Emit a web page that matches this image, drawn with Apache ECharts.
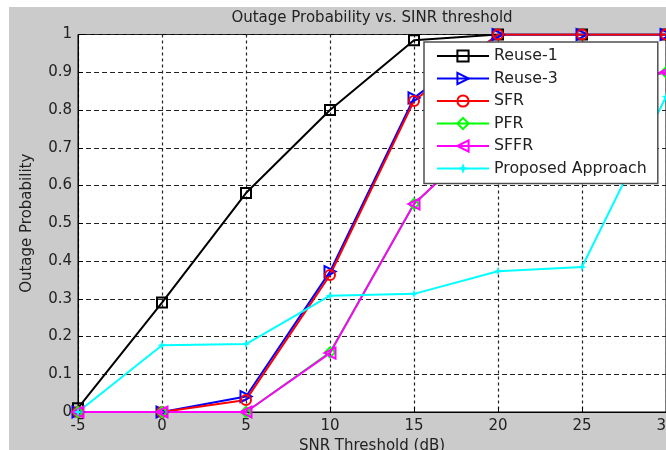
<!DOCTYPE html>
<html><head><meta charset="utf-8">
<script src="https://cdn.jsdelivr.net/npm/echarts@6/dist/echarts.min.js"></script>
<style>html,body{margin:0;padding:0;background:#fff;}#c{width:666px;height:450px;}</style>
</head><body><div id="c"></div>
<script>
var snr = [-5, 0, 5, 10, 15, 20, 25, 30];
var reuse1 = [0.01, 0.29, 0.58, 0.80, 0.985, 1, 1, 1];
var reuse3 = [0, 0, 0.041, 0.372, 0.832, 1, 1, 1];
var sfr = [0, 0, 0.032, 0.363, 0.824, 1, 1, 1];
var pfr = [0, 0, 0, 0.158, 0.551, 0.76, 0.85, 0.9];
var sffr = [0, 0, 0, 0.156, 0.551, 0.76, 0.85, 0.9];
var proposed = [0, 0.177, 0.18, 0.308, 0.313, 0.373, 0.384, 0.835];
var names = ['Reuse-1', 'Reuse-3', 'SFR', 'PFR', 'SFFR', 'Proposed Approach'];

function pairs(v){ return snr.map(function(x,i){ return [x, v[i]]; }); }
var FONT = 'DejaVu Sans';
var star = 'path://M0,-10 L2.5,-2.5 L10,0 L2.5,2.5 L0,10 L-2.5,2.5 L-10,0 L-2.5,-2.5 Z';

function mk(name, data, color, symbol, size, rot, filled){
  return {
    name: name, type: 'line', data: pairs(data),
    symbol: symbol, symbolSize: size, symbolRotate: rot || 0,
    lineStyle: {color: color, width: 2},
    itemStyle: {color: filled ? color : 'rgba(255,255,255,0)', borderColor: color, borderWidth: filled ? 0 : 2},
    emphasis: {disabled: true}, animation: false
  };
}

var chart = echarts.init(document.getElementById('c'), null, {renderer: 'canvas'});
chart.setOption({
  backgroundColor: '#ffffff',
  animation: false,
  graphic: [{type: 'rect', z: -10, shape: {x: 9, y: 7, width: 670, height: 450}, style: {fill: '#cbcbcb'}}],
  title: {text: 'Outage Probability vs. SINR threshold', left: 372, textAlign: 'center', top: 11, padding: 0,
    textStyle: {fontFamily: FONT, fontSize: 15, fontWeight: 'normal', color: '#222'}},
  grid: {left: 78, top: 34.5, width: 588, height: 377.5, show: true, backgroundColor: '#ffffff', borderColor: '#000', borderWidth: 1, containLabel: false, outerBoundsMode: 'none'},
  legend: {
    data: names, orient: 'vertical', left: 424, top: 42,
    backgroundColor: '#ffffff', borderColor: '#505050', borderWidth: 1.5,
    padding: [6, 11, 7, 12], itemWidth: 52, itemHeight: 14, itemGap: 6.5,
    textStyle: {fontFamily: FONT, fontSize: 15.8, color: '#222', padding: [0,0,0,0]},
    selectedMode: false
  },
  xAxis: {
    type: 'value', min: -5, max: 30, interval: 5,
    name: 'SNR Threshold (dB)', nameLocation: 'middle', nameGap: 27,
    nameTextStyle: {fontFamily: FONT, fontSize: 15, color: '#222'},
    axisLine: {show: true, onZero: false, lineStyle: {color: '#000', width: 1}},
    axisTick: {show: true, inside: true, length: 5, lineStyle: {color: '#000'}},
    axisLabel: {fontFamily: FONT, fontSize: 15, color: '#222', margin: 7},
    splitLine: {show: true, lineStyle: {color: '#222', width: 1.2, type: [3, 3]}}
  },
  yAxis: {
    type: 'value', min: 0, max: 1, interval: 0.1,
    name: 'Outage Probability', nameLocation: 'middle', nameGap: 43,
    nameTextStyle: {fontFamily: FONT, fontSize: 15, color: '#222'},
    axisLine: {show: true, onZero: false, lineStyle: {color: '#000', width: 1}},
    axisTick: {show: true, inside: true, length: 5, lineStyle: {color: '#000'}},
    axisLabel: {fontFamily: FONT, fontSize: 15, color: '#222', margin: 6},
    splitLine: {show: true, lineStyle: {color: '#222', width: 1.2, type: [5, 3]}}
  },
  series: [
    mk('Reuse-1', reuse1, '#000000', 'rect', 10, 0, false),
    mk('Reuse-3', reuse3, '#0000ff', 'triangle', 11, -90, false),
    mk('SFR', sfr, '#ff0000', 'circle', 10, 0, false),
    mk('PFR', pfr, '#00ff00', 'diamond', 10, 0, false),
    mk('SFFR', sffr, '#ff00ff', 'triangle', 11, 90, false),
    mk('Proposed Approach', proposed, '#00ffff', star, 9, 0, true)
  ]
});
</script></body></html>
